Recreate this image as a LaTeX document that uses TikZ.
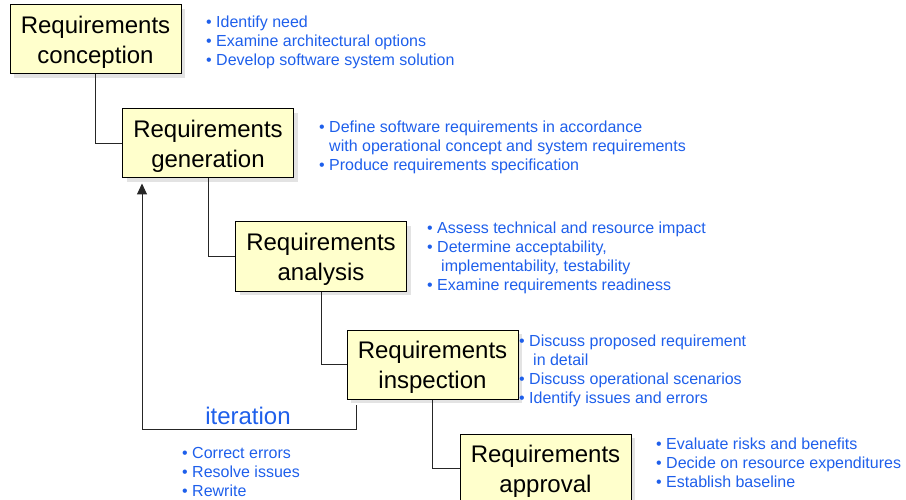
\documentclass[tikz,border=0pt]{standalone}
\usepackage{fontspec}
\setmainfont{Liberation Sans}
\usetikzlibrary{arrows.meta,shadows}
\definecolor{boxfill}{HTML}{FFFFCC}
\definecolor{txtblue}{RGB}{30,95,235}
\tikzset{
  reqbox/.style={draw=black, line width=1pt, fill=boxfill, minimum width=171pt, minimum height=69pt,
    inner sep=0pt, font=\fontsize{24}{30}\selectfont,
    drop shadow={shadow xshift=4pt, shadow yshift=-4pt, opacity=0.22, fill=gray}},
  bullets/.style={anchor=base west, inner sep=0pt, text=txtblue, font=\fontsize{16}{19}\selectfont},
  conn/.style={draw=black!85, line width=1pt},
  itlabel/.style={text=txtblue, font=\fontsize{24}{28}\selectfont, inner sep=0pt}
}
\newcommand{\blist}[1]{\begin{tabular}[t]{@{}l@{}}#1\end{tabular}}
\newcommand{\btext}[1]{\raisebox{-3pt}[\height][\depth]{\begin{tabular}{@{}c@{}}#1\end{tabular}}}
\begin{document}
\begin{tikzpicture}[x=1pt,y=-1pt]
\useasboundingbox (0,0) rectangle (906,500);
% boxes
\node[reqbox] (c) at (95.5,39.5) {\btext{Requirements\\conception}};
\node[reqbox] (g) at (208,143.5) {\btext{Requirements\\generation}};
\node[reqbox] (a) at (321,256.5) {\btext{Requirements\\analysis}};
\node[reqbox] (i) at (432.5,364.5) {\btext{Requirements\\inspection}};
\node[reqbox] (p) at (545.5,468.5) {\btext{Requirements\\approval}};
% connectors
\draw[conn] (c.south) |- (g.west);
\draw[conn] (g.south) |- (a.west);
\draw[conn] (a.south) |- (i.west);
\draw[conn] (i.south) |- (p.west);
% iteration loop
\coordinate (itA) at (356,405);
\coordinate (itB) at (142,429);
\draw[conn, -{Triangle[length=11pt,width=10pt]}] (itA) |- (itB) -- ([yshift=-5pt]itB |- g.south);
\node[itlabel] (itl) at (248,416) {iteration};
% bullet lists
\node[bullets] (lc) at (206,28) {\blist{• Identify need\\• Examine architectural options\\• Develop software system solution}};
\node[bullets] (lg) at (319,133) {\blist{• Define software requirements in accordance\\\phantom{• }with operational concept and system requirements\\• Produce requirements specification}};
\node[bullets] (la) at (427,234) {\blist{• Assess technical and resource impact\\• Determine acceptability,\\\hspace*{14pt}implementability, testability\\• Examine requirements readiness}};
\node[bullets] (li) at (519,346) {\blist{• Discuss proposed requirement\\\hspace*{14pt}in detail\\• Discuss operational scenarios\\• Identify issues and errors}};
\node[bullets] (lp) at (656,449) {\blist{• Evaluate risks and benefits\\• Decide on resource expenditures\\• Establish baseline}};
\node[bullets] (lit) at (182,458) {\blist{• Correct errors\\• Resolve issues\\• Rewrite}};
\end{tikzpicture}
\end{document}
